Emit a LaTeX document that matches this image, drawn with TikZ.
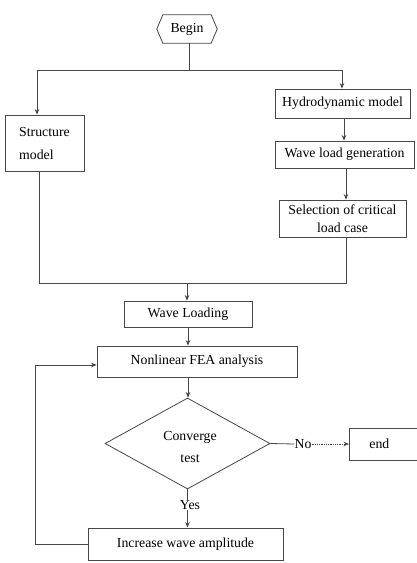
\documentclass[tikz,border=0pt]{standalone}
\usepackage{fontspec}
\setmainfont{Liberation Serif}
\usetikzlibrary{arrows.meta,shapes.geometric,calc}
\begin{document}
\begin{tikzpicture}[x=1pt,y=-1pt,
  font=\fontsize{13.8}{22}\selectfont,
  ln/.style={draw=black!72, line width=0.8pt},
  arr/.style={ln, -{Stealth[length=5.5pt,width=4.5pt]}},
  box/.style={ln, rectangle, inner sep=0pt, text=black},
  plain/.style={inner sep=0pt}]
\useasboundingbox (0,0) rectangle (417,563);

% nodes
\node[plain, minimum width=60pt, minimum height=28pt] (begin) at (187,29) {Begin};
\draw[ln] (begin.west) -- ([xshift=6pt]begin.north west) -- ([xshift=-6pt]begin.north east)
  -- (begin.east) -- ([xshift=-6pt]begin.south east) -- ([xshift=6pt]begin.south west) -- cycle;

\node[box, minimum width=135pt, minimum height=29pt] (hydro) at (342.5,103.5) {Hydrodynamic model};
\node[box, minimum width=79pt, minimum height=56pt, align=left, font=\fontsize{13.8}{23}\selectfont] (sm) at (44.5,143) {Structure\\model};
\node[box, minimum width=139pt, minimum height=27pt] (wg) at (344.5,154.5) {Wave load generation};
\node[box, minimum width=127pt, minimum height=37pt, align=center, font=\fontsize{13.8}{18}\selectfont] (sel) at (342.5,218.5) {Selection of critical\\load case};
\node[box, minimum width=128pt, minimum height=26pt] (wl) at (188,314) {Wave Loading};
\node[box, minimum width=200pt, minimum height=31pt] (fea) at (197,361.5) {Nonlinear FEA analysis};
\node[ln, diamond, aspect=1.81, inner sep=0pt, minimum width=165pt, minimum height=91pt, align=center] (dia) at (187.5,443.5) {};
\node[plain, align=center, font=\fontsize{13.8}{22}\selectfont] (ct) at (190,447) {Converge\\test};
\node[box, anchor=west, minimum height=32pt, text width=30pt, inner xsep=20pt, align=left] (end) at (349,444) {end};
\node[box, minimum width=195pt, minimum height=32pt] (inc) at (185.5,544) {Increase wave amplitude};
\node[plain] (no) at (303,444) {No};
\node[plain] (yes) at (190,505) {Yes};

% junction coordinates
\coordinate (j0) at (189,70);
\coordinate (jl) at (37,70);
\coordinate (jr) at (342,70);
\coordinate (ml) at (39,283);
\coordinate (mr) at (346,283);
\coordinate (mc) at (187,283);
\coordinate (fl) at (35,544);
\coordinate (fu) at (35,365);

% connectors
\draw[ln] (begin.south -| j0) -- (j0);
\draw[ln] (jl) -- (jr);
\draw[arr] (jl) -- (jl |- sm.north);
\draw[arr] (jr) -- (jr |- hydro.north);
\draw[arr] (hydro.south -| 344,0) -- (wg.north -| 344,0);
\draw[arr] (wg.south -| 346,0) -- (sel.north -| 346,0);
\draw[ln] (sel.south -| mr) -- (mr) -- (ml) -- (sm.south -| ml);
\draw[arr] (mc) -- (mc |- wl.north);
\draw[arr] (wl.south -| 188,0) -- (fea.north -| 188,0);
\draw[arr] (fea.south -| 188,0) -- (dia.north -| 188,0);
\draw[ln] (dia.east) -- (no.west);
\draw[ln, densely dotted, -{Stealth[length=5.5pt,width=4.5pt]}] (no.east) -- (end.west);
\draw[ln] (dia.south) -- (dia.south |- yes.north);
\draw[arr] (yes.south -| dia.south) -- (dia.south |- inc.north);
\draw[arr] (inc.west) -- (fl) -- (fu) -- (fu -| fea.west);
\end{tikzpicture}
\end{document}
